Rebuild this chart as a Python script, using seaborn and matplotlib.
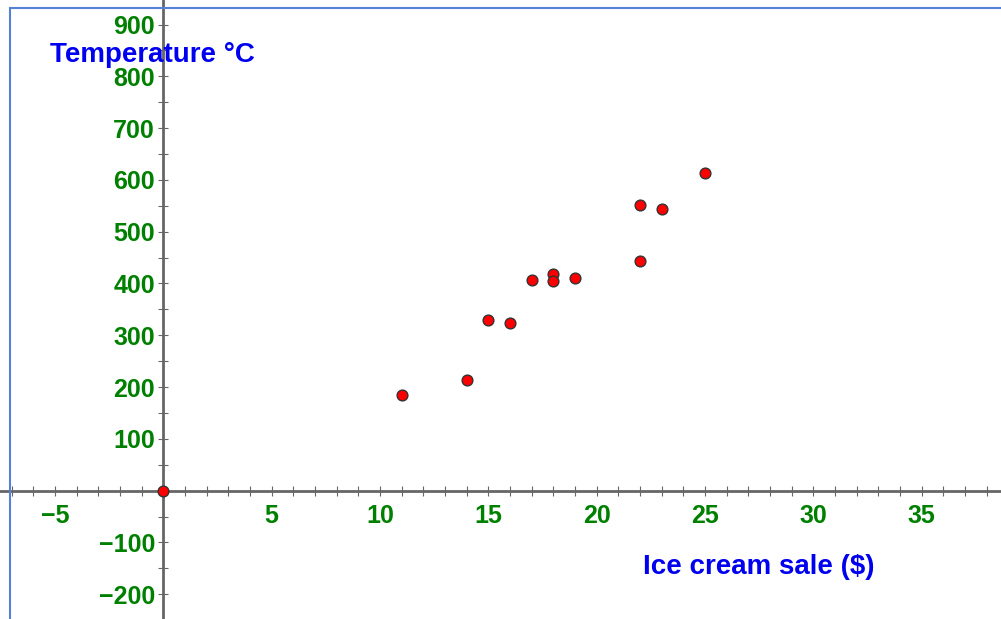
import numpy as np
import pandas as pd
import matplotlib
matplotlib.use("Agg")
import matplotlib.pyplot as plt
import seaborn as sns
from matplotlib.patches import Rectangle
from matplotlib.ticker import MultipleLocator, FixedLocator

# values
sales = [11, 14, 15, 16, 17, 18, 18, 19, 22, 22, 23, 25]
temps = [184, 214, 330, 324, 406, 419, 404, 411, 551, 444, 543, 614]
x_labels = [-5, 5, 10, 15, 20, 25, 30, 35]
y_labels = [-200, -100, 100, 200, 300, 400, 500, 600, 700, 800, 900]

df = pd.DataFrame({"sale": sales, "temp": temps})

sns.set_style("white")
plt.rcParams["font.family"] = ["Liberation Sans", "DejaVu Sans"]

fig = plt.figure(figsize=(10.01, 6.19), dpi=100)
ax = fig.add_axes([0, 0, 1, 1])

ax.set_xlim(-7.54, 38.66)
ax.set_ylim(-247.7, 947.3)

for side in ["top", "right"]:
    ax.spines[side].set_visible(False)
for side in ["left", "bottom"]:
    ax.spines[side].set_position("zero")
    ax.spines[side].set_color("#666666")
    ax.spines[side].set_linewidth(2)
    ax.spines[side].set_zorder(2)

ax.xaxis.set_major_locator(FixedLocator(x_labels))
ax.yaxis.set_major_locator(FixedLocator(y_labels))
ax.xaxis.set_minor_locator(MultipleLocator(1))
ax.yaxis.set_minor_locator(MultipleLocator(50))

ax.tick_params(which="both", direction="inout", length=7.2, width=0.8,
               color="#666666", bottom=True, left=True)
ax.tick_params(axis="x", which="major", pad=6, labelsize=18,
               labelcolor="#008000")
ax.tick_params(axis="y", which="major", pad=2.5, labelsize=18,
               labelcolor="#008000")
for lab in ax.get_xticklabels() + ax.get_yticklabels():
    lab.set_fontweight("bold")

sns.scatterplot(data=df, x="sale", y="temp", ax=ax, s=60, color="#ff0000",
                edgecolor="#333333", linewidth=1, zorder=3, legend=False)
ax.scatter([0], [0], s=60, color="#ff0000", edgecolor="#333333",
           linewidth=1, zorder=4, clip_on=False)

ax.set_xlabel("")
ax.set_ylabel("")

ax.text(-0.52, 842, "Temperature °C", color="#0000f0", fontsize=20,
        fontweight="bold", ha="center", va="center", zorder=5)
ax.text(27.5, -147, "Ice cream sale ($)", color="#0000f0", fontsize=20,
        fontweight="bold", ha="center", va="center", zorder=5)

# blue frame round the picture
fig.patches.append(Rectangle((9.5 / 1001, -0.05), 1.2, (619 - 8) / 619 + 0.05,
                             transform=fig.transFigure, fill=False,
                             edgecolor="#5580d8", linewidth=1.5))

fig.savefig("out.png", dpi=100)
